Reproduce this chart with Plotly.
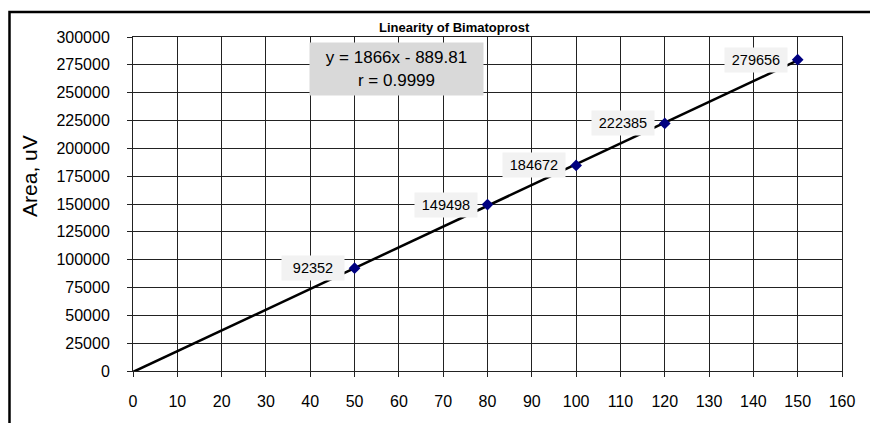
import plotly.graph_objects as go

# Calibration data for Bimatoprost
concentrations = [50, 80, 100, 120, 150]
areas = [92352, 149498, 184672, 222385, 279656]
area_labels = ["92352", "149498", "184672", "222385", "279656"]

# Linear regression reported for the series
slope = 1866
intercept = -889.81
r_value = "0.9999"
trend_x = [0, 150]

x_ticks = list(range(0, 161, 10))
y_ticks = list(range(0, 300001, 25000))
y_tick_text = [str(v) for v in y_ticks]

FONT = "Liberation Sans, Arial, sans-serif"

fig = go.Figure()

# Regression line
fig.add_trace(go.Scatter(
    x=trend_x,
    y=[slope * x + intercept for x in trend_x],
    mode="lines",
    line=dict(color="black", width=2.5),
    hoverinfo="skip",
    showlegend=False,
))

# Measured points
fig.add_trace(go.Scatter(
    x=concentrations,
    y=areas,
    mode="markers",
    marker=dict(symbol="diamond", size=9, color="#000080"),
    showlegend=False,
))

# Value labels to the left of each point
for xv, yv, txt in zip(concentrations, areas, area_labels):
    fig.add_annotation(
        x=xv, y=yv, xref="x", yref="y",
        text=txt, showarrow=False,
        xanchor="right", yanchor="middle", xshift=-10,
        font=dict(family=FONT, size=14.5, color="black"),
        bgcolor="#f2f2f2", borderpad=4, width=54, height=16,
    )

# Equation box
fig.add_annotation(
    x=0.3717, y=0.904, xref="paper", yref="paper",
    text=f"y = {slope}x - {abs(intercept)}<br>r = {r_value}",
    showarrow=False, xanchor="center", yanchor="middle", align="center",
    font=dict(family=FONT, size=17, color="black"),
    bgcolor="#d9d9d9", borderpad=4, width=165, height=44,
)

# Chart title
fig.add_annotation(
    x=0.454, y=1.027, xref="paper", yref="paper",
    text="<b>Linearity of Bimatoprost</b>", showarrow=False,
    xanchor="center", yanchor="middle",
    font=dict(family=FONT, size=13, color="black"),
)

# Y-axis title
fig.add_annotation(
    x=-0.1453, y=0.584, xref="paper", yref="paper",
    text="Area, uV", showarrow=False, textangle=-90,
    xanchor="center", yanchor="middle",
    font=dict(family=FONT, size=21, color="black"),
)

# Outer chart frame
fig.add_shape(
    type="rect", xref="paper", yref="paper",
    x0=-0.1742, x1=1.2, y0=-0.3, y1=1.0749,
    line=dict(color="black", width=2.5), layer="above",
)

axis_common = dict(
    showgrid=True, gridcolor="#222222", gridwidth=1,
    showline=True, linecolor="#222222", linewidth=1, mirror=True,
    ticks="outside", ticklen=5, tickcolor="#222222", tickwidth=1,
    zeroline=False,
    tickfont=dict(family=FONT, size=16, color="black"),
)

fig.update_xaxes(range=[0, 160], tickvals=x_ticks, ticklabelstandoff=11, **axis_common)
fig.update_yaxes(range=[0, 300000], tickvals=y_ticks, ticktext=y_tick_text,
                 ticklabelstandoff=14, **axis_common)

fig.update_layout(
    width=870, height=423,
    margin=dict(l=133, r=28, t=37, b=52),
    paper_bgcolor="white", plot_bgcolor="white",
    showlegend=False,
)

fig.write_html("out.html")
